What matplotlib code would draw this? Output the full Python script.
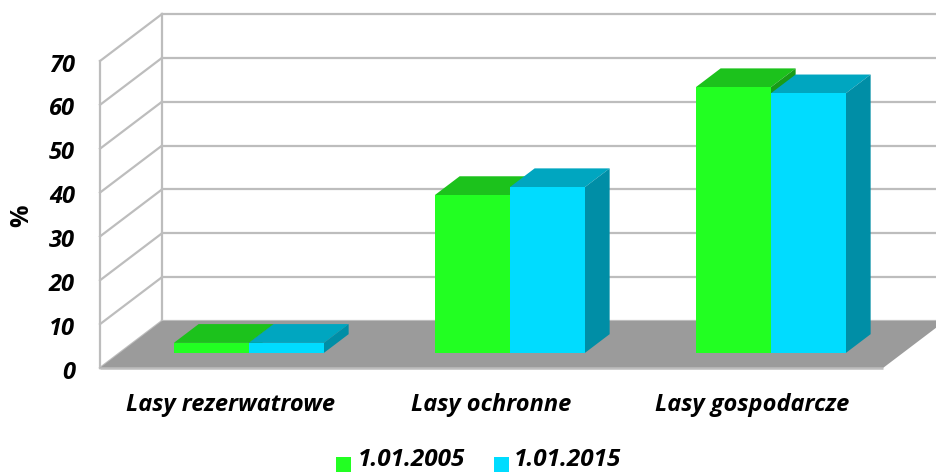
import matplotlib
matplotlib.use("Agg")
import matplotlib.pyplot as plt
from matplotlib.patches import Polygon, Rectangle

categories = ["Lasy rezerwatrowe", "Lasy ochronne", "Lasy gospodarcze"]
series_2005 = [2.3, 36.0, 60.6]
series_2015 = [2.3, 37.8, 59.2]
labels = ["1.01.2005", "1.01.2015"]
ticks = [0, 10, 20, 30, 40, 50, 60, 70]

W, H = 937, 473
plt.rcParams["font.family"] = ["Open Sans", "DejaVu Sans"]
fig = plt.figure(figsize=(W / 100, H / 100), dpi=100)
# front plane of the box: x 100-883 px, y 61-368 px
ax = fig.add_axes([100 / W, 1 - 368 / H, 783 / W, 307 / H])
ax.set_xlim(-0.5, 2.5)
ax.set_ylim(0, 70)
ax.axis("off")

# sheared depth, in data units
px_x = 3 / 783
px_y = 70 / 307
dx = 62 * px_x
dy = 47 * px_y
grid = "#bdbdbd"


def depth(x, y, d):
    return (x + dx * d, y + dy * d)


def poly(pts, color, z, lw=0):
    ax.add_patch(Polygon(pts, closed=True, facecolor=color, edgecolor=color,
                         linewidth=lw, zorder=z, clip_on=False))


# floor
poly([depth(-0.5, 0, 0), depth(2.5, 0, 0), depth(2.5, 0, 1), depth(-0.5, 0, 1)], "#9b9b9b", 1)
ax.plot([-0.5, 2.5], [0, 0], color=grid, lw=1.8, zorder=2, clip_on=False, solid_capstyle="butt")

# walls and gridlines
for t in ticks:
    x0, y0 = depth(-0.5, t, 1)
    ax.plot([-0.5, x0], [t, y0], color=grid, lw=1.6, zorder=0.5, clip_on=False)
    ax.plot([x0, depth(2.5, t, 1)[0]], [y0, y0], color=grid, lw=1.6, zorder=0.5, clip_on=False)
ax.plot([-0.5, -0.5], [0, 70], color=grid, lw=1.6, zorder=0.5, clip_on=False)
x0 = depth(-0.5, 0, 1)[0]
ax.plot([x0, x0], [dy, 70 + dy], color=grid, lw=1.6, zorder=0.5, clip_on=False)

for t in ticks:
    ax.text(-0.5 - 25 * px_x, t - 4.5 * px_y, str(t), ha="right", va="center", fontsize=17,
            fontweight="bold", fontstyle="italic", color="black", clip_on=False)

# bars
bar_w = 75 * px_x
d0, d1 = 0.32, 0.72
shift = -1.5 * px_x
styles = [("#22ff22", "#1cc21c", "#189c18"), ("#00dcff", "#00a6c0", "#008ea6")]


def draw_bar(x, v, style, z):
    front, top, side = style
    y0 = dy * d0
    x0 = x + dx * d0 + shift
    sx = dx * (d1 - d0)
    sy = dy * (d1 - d0)
    ax.add_patch(Rectangle((x0, y0), bar_w, v, facecolor=front, edgecolor="none", zorder=z + 0.2, clip_on=False))
    poly([(x0, y0 + v), (x0 + bar_w, y0 + v), (x0 + bar_w + sx, y0 + v + sy), (x0 + sx, y0 + v + sy)], top, z)
    poly([(x0 + bar_w, y0), (x0 + bar_w + sx, y0 + sy), (x0 + bar_w + sx, y0 + v + sy), (x0 + bar_w, y0 + v)], side, z + 0.1)


for i in range(len(categories)):
    draw_bar(i - bar_w, series_2005[i], styles[0], 3)
    draw_bar(i, series_2015[i], styles[1], 4)

# category labels
for i, c in enumerate(categories):
    ax.text(i, -37 * px_y, c, ha="center", va="center", fontsize=17,
            fontweight="bold", fontstyle="italic", clip_on=False)

fig.text(22 / W, 1 - 216 / H, "%", rotation=90, ha="center", va="center",
         fontsize=18, fontweight="bold")

# legend
fig.patches.append(Rectangle((336 / W, 1 - 472 / H), 15 / W, 15 / H, transform=fig.transFigure, facecolor=styles[0][0], edgecolor="none"))
fig.patches.append(Rectangle((494 / W, 1 - 472 / H), 15 / W, 15 / H, transform=fig.transFigure, facecolor=styles[1][0], edgecolor="none"))
fig.text(358 / W, 1 - 466 / H, labels[0], ha="left", va="baseline", fontsize=17.5, fontweight="bold", fontstyle="italic")
fig.text(514 / W, 1 - 466 / H, labels[1], ha="left", va="baseline", fontsize=17.5, fontweight="bold", fontstyle="italic")

fig.savefig("out.png", dpi=100)
